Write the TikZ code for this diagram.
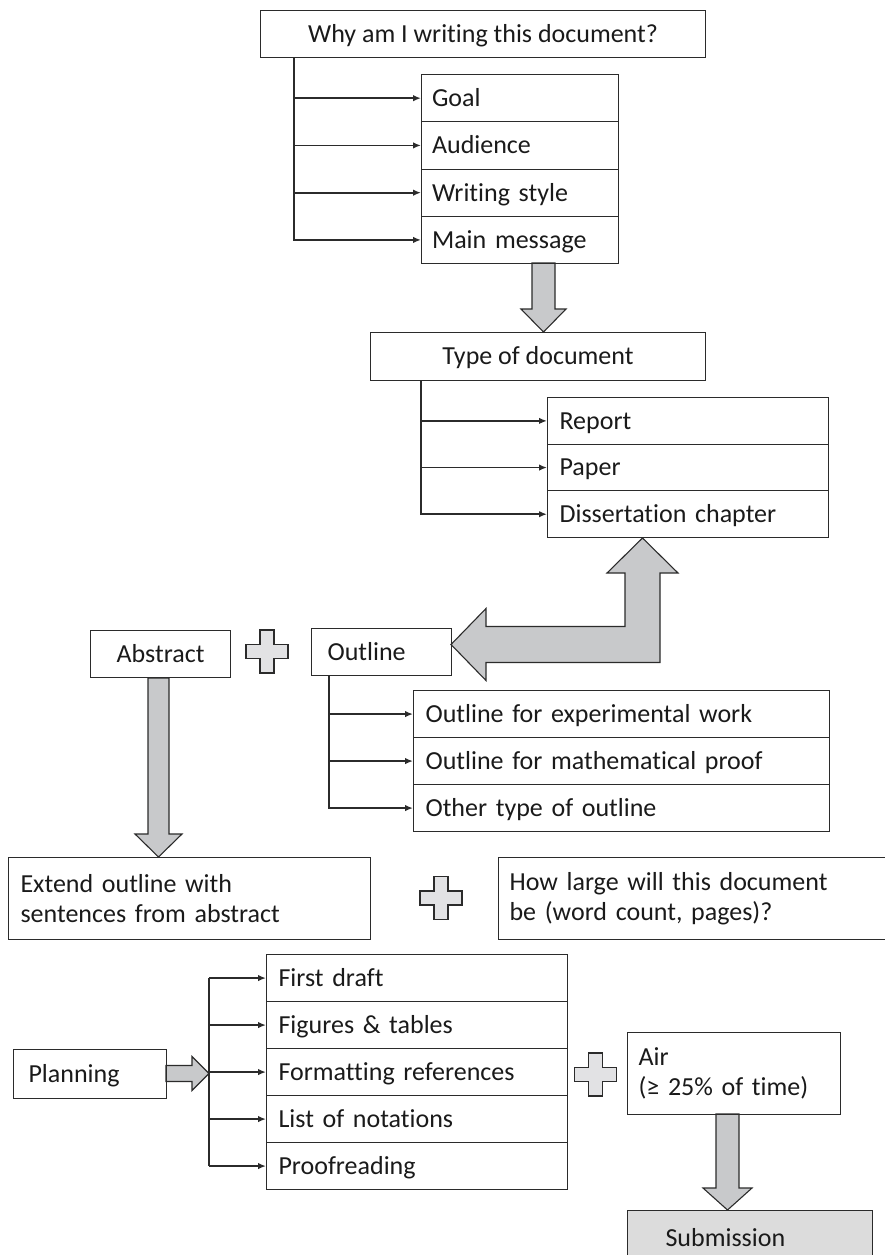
\documentclass[tikz,border=0pt]{standalone}
\usepackage{fontspec}
\setmainfont{Carlito}[Ligatures=NoCommon]
\usetikzlibrary{arrows.meta,calc}
\definecolor{lc}{HTML}{2B2B2B}
\definecolor{txt}{HTML}{1A1A1A}
\definecolor{arrowgray}{HTML}{C8C9CB}
\definecolor{plusgray}{HTML}{E2E2E4}
\definecolor{subgray}{HTML}{DCDCDC}
\newcommand\bigfont{\fontsize{26}{30.5}\selectfont}
\begin{document}
\begin{tikzpicture}[x=1pt,y=-1pt,
  box/.style={draw=lc, line width=1.1pt, anchor=north west, inner ysep=0pt, font=\bigfont, text=txt},
  cbox/.style={box, text height=20pt, text depth=3.2pt},
  row/.style={box, align=left, text height=20pt, text depth=3.2pt},
  goalrow/.style={row, inner xsep=10.5pt, text width=176pt, minimum height=47.25pt},
  reprow/.style={row, inner xsep=12pt, text width=257pt, minimum height=46.67pt},
  orow/.style={row, inner xsep=12pt, text width=392pt, minimum height=47pt},
  prow/.style={row, inner xsep=12pt, text width=277pt, minimum height=47pt},
  tbox/.style={box, align=left, minimum height=82pt},
  conn/.style={draw=lc, line width=1.8pt, -{Latex[length=8pt,width=6.5pt]}},
  trunk/.style={draw=lc, line width=1.8pt},
  blk/.style={fill=arrowgray, draw=lc, line width=1.1pt, line join=miter},
  plusst/.style={fill=plusgray, draw=lc, line width=1.1pt},
  plussign/.pic={\draw[plusst] (-7,-21.5) -- (7,-21.5) -- (7,-7) -- (21,-7) -- (21,7) -- (7,7) -- (7,21.5) -- (-7,21.5) -- (-7,7) -- (-21,7) -- (-21,-7) -- (-7,-7) -- cycle;}
]
\useasboundingbox (0,0) rectangle (884,1255);

% block arrows (drawn first)
\draw[blk] (532,263) -- (532,309) -- (521,309) -- (543.5,332) -- (566,309) -- (555,309) -- (555,263) -- cycle;
\draw[blk] (642.5,538) -- (678,573) -- (660,573) -- (660,662.5) -- (486,662.5) -- (486,680.5) -- (451,644.5) -- (486,608.5) -- (486,626.5) -- (625,626.5) -- (625,573) -- (607,573) -- cycle;
\draw[blk] (148,678) -- (148,834) -- (135,834) -- (158.5,857) -- (182,834) -- (169,834) -- (169,678) -- cycle;
\draw[blk] (166,1065.5) -- (192,1065.5) -- (192,1056.5) -- (209,1073.5) -- (192,1090.5) -- (192,1081.5) -- (166,1081.5) -- cycle;
\draw[blk] (716,1114) -- (716,1188) -- (703,1188) -- (727.5,1210) -- (752,1188) -- (739,1188) -- (739,1114) -- cycle;

% boxes
\node[cbox, minimum width=445pt, minimum height=47pt] (why) at (260,10) {Why am I writing this document?};
\node[goalrow] (goal) at (421,74) {Goal};
\node[goalrow] (aud) at (421,121.25) {Audience};
\node[goalrow] (sty) at (421,168.5) {Writing style};
\node[goalrow] (msg) at (421,215.75) {Main message};

\node[cbox, minimum width=335pt, minimum height=48pt] (type) at (370,332) {Type of document};
\node[reprow] (rep) at (547,397) {Report};
\node[reprow] (pap) at (547,443.67) {Paper};
\node[reprow] (dis) at (547,490.33) {Dissertation chapter};

\node[cbox, minimum width=140pt, minimum height=47pt] (abs) at (90,630) {Abstract};
\node[row, inner xsep=16pt, text width=108pt, minimum height=47pt] (outl) at (311,628) {Outline};
\node[orow] (oexp) at (413,690) {Outline for experimental work};
\node[orow] (omat) at (413,737) {Outline for mathematical proof};
\node[orow] (ooth) at (413,784) {Other type of outline};

\node[tbox, inner xsep=12pt, text width=338pt] (ext) at (8,857) {Extend outline with\\sentences from abstract};
\node[tbox, inner xsep=11pt, text width=378pt] (how) at (498,857) {How large will this document\\be (word count, pages)?};

\node[row, inner xsep=15pt, text width=123pt, minimum height=49pt] (plan) at (13,1049) {Planning};
\node[prow] (fd) at (266,954) {First draft};
\node[prow] (ft) at (266,1001) {Figures \& tables};
\node[prow] (fr) at (266,1048) {Formatting references};
\node[prow] (ln) at (266,1095) {List of notations};
\node[prow] (pr) at (266,1142) {Proofreading};

\node[tbox, inner xsep=11pt, text width=191pt] (air) at (627,1032) {Air\\(≥ 25\% of time)};
\node[row, fill=subgray, inner xsep=38pt, text width=169pt, minimum height=55pt] (sub) at (627,1210) {Submission};

% plus signs
\pic at (267,651.5) {plussign};
\pic at (441,898) {plussign};
\pic at (595.5,1074.5) {plussign};

% branch connectors
\coordinate (t1) at (294,0);
\coordinate (t2) at (421,0);
\coordinate (t3) at (329,0);
\coordinate (t4) at (209,0);

\draw[conn] (t1 |- why.south) |- (msg.west);
\foreach \n in {goal,aud,sty} \draw[conn] (t1 |- \n.west) -- (\n.west);

\draw[conn] (t2 |- type.south) |- (dis.west);
\foreach \n in {rep,pap} \draw[conn] (t2 |- \n.west) -- (\n.west);

\draw[conn] (t3 |- outl.south) |- (ooth.west);
\foreach \n in {oexp,omat} \draw[conn] (t3 |- \n.west) -- (\n.west);

\draw[trunk] (t4 |- fd.west) -- (t4 |- pr.west);
\foreach \n in {fd,ft,fr,ln,pr} \draw[conn] (t4 |- \n.west) -- (\n.west);
\end{tikzpicture}
\end{document}
